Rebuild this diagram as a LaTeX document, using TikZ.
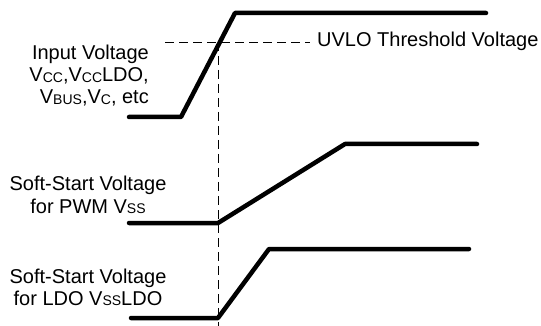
\documentclass[tikz,border=0pt]{standalone}
\usepackage{fontspec}
\setmainfont{Liberation Sans}
\newcommand{\smc}[1]{\raisebox{-0.5pt}{\fontsize{14}{14}\selectfont #1}}
\begin{document}
\begin{tikzpicture}[x=1pt,y=-1pt,
  wave/.style={line width=4.5pt,line cap=round,line join=round},
  guide/.style={line width=0.9pt,dash pattern=on 9pt off 5pt},
  lbl/.style={inner sep=0pt,font=\fontsize{20}{22}\selectfont}]
\useasboundingbox (0,0) rectangle (541,326);
% coordinates
\coordinate (a1) at (129,117);
\coordinate (a2) at (181,117);
\coordinate (a3) at (235,13);
\coordinate (a4) at (486,13);
\coordinate (b1) at (129,223);
\coordinate (b2) at (218,223);
\coordinate (b3) at (345,144);
\coordinate (b4) at (477,144);
\coordinate (c1) at (131,318);
\coordinate (c2) at (218,318);
\coordinate (c3) at (269,249);
\coordinate (c4) at (469,249);
\coordinate (t1) at (165,42);
\coordinate (t2) at (310,42);
\coordinate (v1) at (218,42);
\coordinate (v2) at (218,326);
% waveforms
\draw[wave] (a1) -- (a2) -- (a3) -- (a4);
\draw[wave] (b1) -- (b2) -- (b3) -- (b4);
\draw[wave] (c1) -- (c2) -- (c3) -- (c4);
% guides
\draw[guide] (t1) -- (t2);
\draw[guide] (v1) -- (v2);
% labels
\node[lbl,anchor=base west] (uvlo) at (317,47) {UVLO Threshold Voltage};
\node[lbl,anchor=base east] (in1) at (149,60) {Input Voltage};
\node[lbl,anchor=base east] (in2) at (149,82) {V\smc{CC},V\smc{CC}LDO,};
\node[lbl,anchor=base east] (in3) at (149,104) {V\smc{BUS},V\smc{C}, etc};
\node[lbl,anchor=base] (pw1) at (88,190) {Soft-Start Voltage};
\node[lbl,anchor=base] (pw2) at (88,213) {for PWM V\smc{SS}};
\node[lbl,anchor=base] (ld1) at (88,283) {Soft-Start Voltage};
\node[lbl,anchor=base] (ld2) at (88,305) {for LDO V\smc{SS}LDO};
\end{tikzpicture}
\end{document}
